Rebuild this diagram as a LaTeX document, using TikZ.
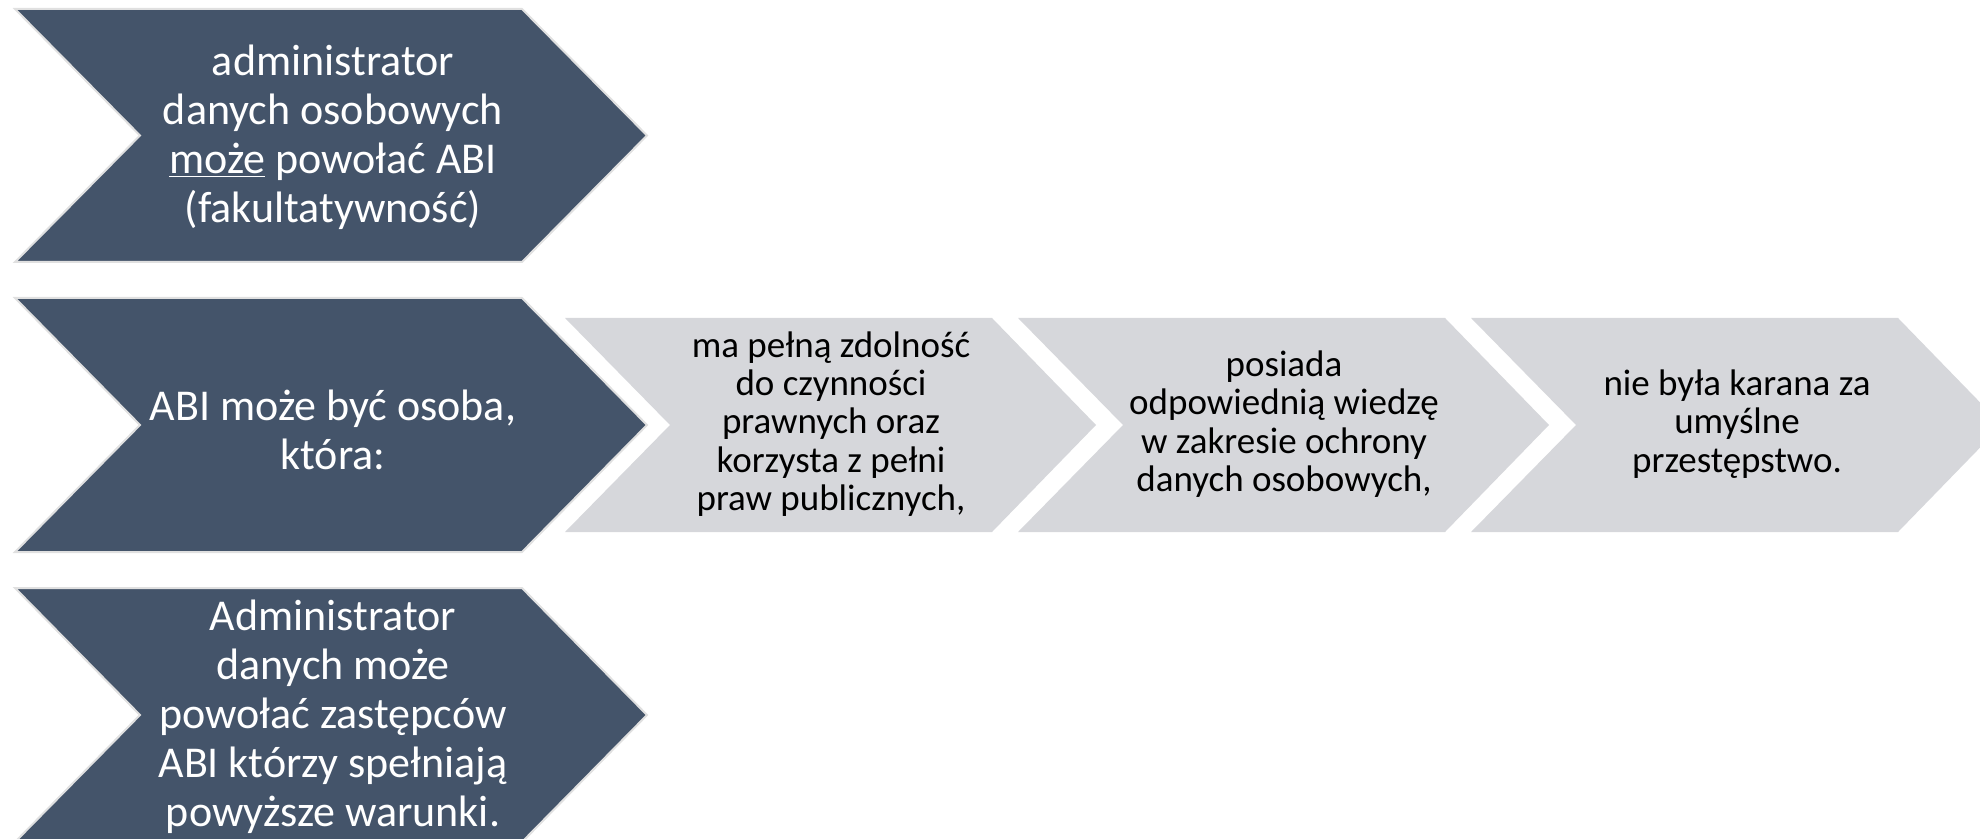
\documentclass[tikz,border=0pt]{standalone}
\usepackage{fontspec}
\setmainfont{Carlito}
\usepackage{tikz}
\usetikzlibrary{positioning}
\definecolor{abiDark}{HTML}{44546A}
\definecolor{abiLight}{HTML}{D6D7DB}
\definecolor{abiEdge}{HTML}{E0E0E0}

\tikzset{
  darkchev/.style={fill=abiDark, draw=abiEdge, line width=1pt, line join=miter},
  lightchev/.style={fill=abiLight, draw=none},
  darktext/.style={text=white, align=center, font=\fontsize{22}{24.5}\selectfont},
  lighttext/.style={text=black, align=center, font=\fontsize{18.5}{19.2}\selectfont},
}

\begin{document}
\begin{tikzpicture}[x=0.5pt,y=-0.5pt]
                    \useasboundingbox (0,0) rectangle (1980,839);
                    \clip (0,0) rectangle (1980,839);

                    \draw[darkchev] (15,9) -- (522,9) -- (647,135.5) -- (522,262) -- (15,262) -- (140,135.5) -- cycle;
                    \node[darktext] (powolanie) at (333,137) {administrator\\danych osobowych\\\underline{może} powołać ABI\\(fakultatywność)};

                    \draw[darkchev] (15,298) -- (522,298) -- (647,425) -- (522,552) -- (15,552) -- (140,425) -- cycle;
                    \node[darktext] (osoba) at (333,430) {ABI może być osoba,\\która:};

                    \draw[darkchev] (15,588) -- (522,588) -- (647,715) -- (522,842) -- (15,842) -- (140,715) -- cycle;
                    \node[darktext] (zastepcy) at (333,717) {Administrator\\danych może\\powołać zastępców\\ABI którzy spełniają\\powyższe warunki.};

                    \foreach \x in {565,1018,1471}
                        \fill[lightchev] (\x,318) -- (\x+427,318) -- (\x+531,425) -- (\x+427,532) -- (\x,532) -- (\x+105,425) -- cycle;

                    \node[lighttext] (zdolnosc) at (831,424) {ma pełną zdolność\\do czynności\\prawnych oraz\\korzysta z pełni\\praw publicznych,};
                    \node[lighttext] (wiedza) at (1284,424) {posiada\\odpowiednią wiedzę\\w zakresie ochrony\\danych osobowych,};
                    \node[lighttext] (karalnosc) at (1737,424) {nie była karana za\\umyślne\\przestępstwo.};
                \end{tikzpicture}
\end{document}
